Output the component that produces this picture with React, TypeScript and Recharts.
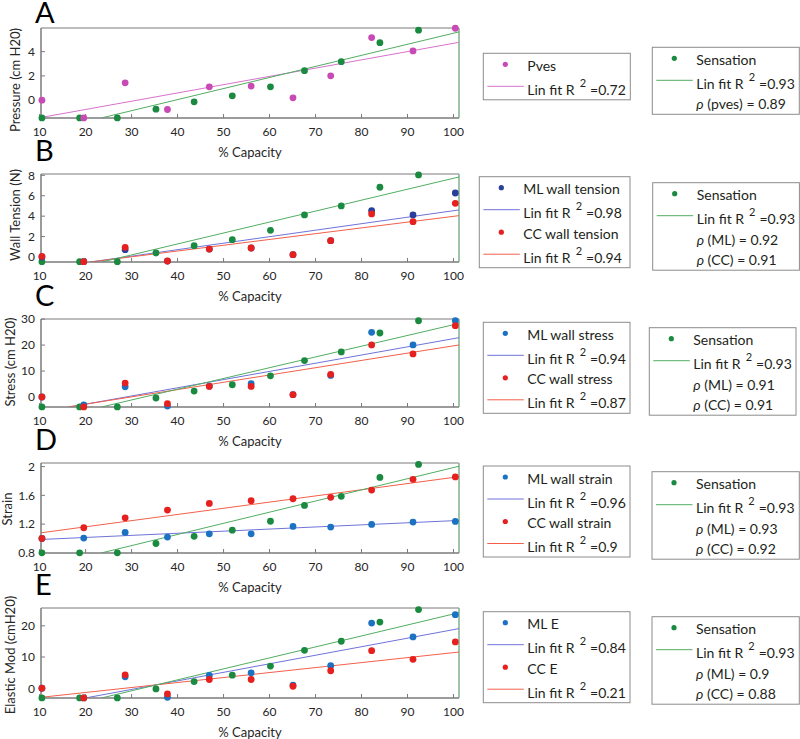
import React from 'react';
import { ScatterChart, Scatter, XAxis, YAxis, ReferenceLine, ReferenceArea } from 'recharts';

// % capacity for the sensation readings and for the wall measurements
const capSensation = [10.5, 18.7, 26.9, 35.3, 43.6, 51.9, 60.2, 67.6, 75.6, 84.0, 92.4];
const capWall = [10.5, 19.6, 28.6, 37.8, 46.9, 56.0, 65.1, 73.3, 82.2, 91.2, 100.4];
const xTicks = [10, 20, 30, 40, 50, 60, 70, 80, 90, 100];
const xDomain = [10.3, 101.2];

// A - pressure
const sensationA = [-1.46, -1.46, -1.46, -0.74, -0.14, 0.36, 1.1, 2.43, 3.17, 4.74, 5.77];
const pves = [0, -1.46, 1.43, -0.77, 1.1, 1.16, 0.19, 2.01, 5.16, 4.06, 5.93];
const fitSensationA = [[23.5, -1.46], [101.2, 5.63]];
const fitPves = [[10.3, -1.43], [101.2, 4.77]];
const yDomainA = [-1.47, 5.95];
const yTicksA = [0, 2, 4];

// B - wall tension
const sensationB = [-0.46, -0.46, -0.46, 0.39, 1.11, 1.7, 2.61, 4.12, 5.0, 6.83, 8.04];
const mlTension = [0.0, -0.46, 0.72, -0.4, 0.78, 0.88, 0.23, 1.6, 4.54, 4.12, 6.27];
const ccTension = [0.07, -0.46, 0.95, -0.39, 0.78, 0.88, 0.23, 1.6, 4.22, 3.46, 5.26];
const fitSensationB = [[23.5, -0.49], [101.2, 7.84]];
const fitMlTension = [[21.0, -0.49], [101.2, 4.61]];
const fitCcTension = [[21.0, -0.49], [101.2, 4.05]];
const yDomainB = [-0.49, 8.13];
const yTicksB = [0, 2, 4, 6, 8];

// C - stress
const sensationC = [-3.83, -3.83, -3.83, -0.38, 2.3, 4.73, 8.17, 14.05, 17.37, 24.65, 29.37];
const mlStress = [0, -3.07, 3.96, -3.5, 4.2, 5.1, 0.9, 8.3, 24.9, 20.05, 29.4];
const ccStress = [0, -3.83, 5.36, -2.55, 4.09, 4.09, 0.9, 8.68, 20.05, 16.6, 27.46];
const fitSensationC = [[23.5, -3.83], [101.2, 28.35]];
const fitMlStress = [[16.6, -3.83], [101.2, 22.86]];
const fitCcStress = [[16.2, -3.83], [101.2, 20.05]];
const yDomainC = [-3.85, 30.05];
const yTicksC = [0, 10, 20, 30];

// D - strain
const sensationD = [0.8, 0.8, 0.8, 0.93, 1.03, 1.116, 1.24, 1.46, 1.586, 1.85, 2.03];
const mlStrain = [1.0, 1.005, 1.084, 1.02, 1.065, 1.065, 1.167, 1.158, 1.195, 1.228, 1.237];
const ccStrain = [1.0, 1.149, 1.288, 1.395, 1.488, 1.526, 1.553, 1.572, 1.674, 1.823, 1.856];
const fitSensationD = [[23.5, 0.8], [101.2, 2.005]];
const fitMlStrain = [[10.3, 0.986], [101.2, 1.251]];
const fitCcStrain = [[10.3, 1.079], [101.2, 1.86]];
const yDomainD = [0.798, 2.05];
const yTicksD = [0.8, 1.2, 1.6, 2];

// E - elastic modulus
const sensationE = [-3.1, -3.1, -3.1, -0.2, 2.15, 4.19, 7.1, 12.15, 15.05, 21.2, 25.2];
const mlModulus = [0, -3.1, 3.66, -2.9, 4.09, 4.95, 0.97, 7.2, 20.86, 16.45, 23.55];
const ccModulus = [0, -3.1, 4.3, -1.83, 2.8, 2.8, 0.65, 5.6, 12.04, 9.25, 14.84];
const fitSensationE = [[23.5, -3.1], [101.2, 24.2]];
const fitMlModulus = [[20.0, -3.1], [101.2, 19.1]];
const fitCcModulus = [[10.3, -2.9], [101.2, 11.6]];
const yDomainE = [-3.12, 25.7];
const yTicksE = [0, 10, 20];

const GREEN = '#198a3f';
const GREEN_LINE = '#52ad62';
const PINK = '#c84bb5';
const PINK_LINE = '#d772cd';
const NAVY = '#283f9c';
const BLUE = '#1c72c2';
const BLUE_LINE = '#6f73d8';
const RED = '#e61f1f';
const RED_LINE = '#f2604a';
const AXIS = '#7a7a7a';
const FONT = 'Lato, "Open Sans", sans-serif';

const zip = (xs: number[], ys: number[]) => xs.map((x, i) => ({ x, y: ys[i] }));

const dot = (color: string) => (props: any) => (
    <circle cx={props.cx} cy={props.cy} r={3.4} fill={color} />
);

const panels = [
    {
        letter: 'A', top: 28, height: 90, yLabel: 'Pressure (cm H20)', yLabelX: 15, yLabelY: 80,
        yDomain: yDomainA, yTicks: yTicksA,
        series: [
            { data: zip(capSensation, sensationA), color: GREEN },
            { data: zip(capWall, pves), color: PINK },
        ],
        fits: [
            { pts: fitPves, color: PINK_LINE },
            { pts: fitSensationA, color: GREEN_LINE },
        ],
        box1: { x: 483.3, y: 53.3, w: 147, rows: [
            { kind: 'dot', color: PINK, text: 'Pves' },
            { kind: 'line', color: PINK_LINE, r2: '0.72' },
        ] },
        box2: { x: 652.3, y: 47.3, w: 147, rows: [
            { kind: 'dot', color: GREEN, text: 'Sensation' },
            { kind: 'line', color: GREEN_LINE, r2: '0.93' },
            { kind: 'rho', label: '(pves)', value: '0.89' },
        ] },
    },
    {
        letter: 'B', top: 174, height: 88, yLabel: 'Wall Tension (N)', yLabelX: 15, yLabelY: 215,
        yDomain: yDomainB, yTicks: yTicksB,
        series: [
            { data: zip(capSensation, sensationB), color: GREEN },
            { data: zip(capWall, mlTension), color: NAVY },
            { data: zip(capWall, ccTension), color: RED },
        ],
        fits: [
            { pts: fitMlTension, color: BLUE_LINE },
            { pts: fitCcTension, color: RED_LINE },
            { pts: fitSensationB, color: GREEN_LINE },
        ],
        box1: { x: 479.3, y: 176.7, w: 150.7, rows: [
            { kind: 'dot', color: NAVY, text: 'ML wall tension' },
            { kind: 'line', color: BLUE_LINE, r2: '0.98' },
            { kind: 'dot', color: RED, text: 'CC wall tension' },
            { kind: 'line', color: RED_LINE, r2: '0.94' },
        ] },
        box2: { x: 652.7, y: 182.7, w: 146.7, rows: [
            { kind: 'dot', color: GREEN, text: 'Sensation' },
            { kind: 'line', color: GREEN_LINE, r2: '0.93' },
            { kind: 'rho', label: '(ML)', value: '0.92' },
            { kind: 'rho', label: '(CC)', value: '0.91' },
        ] },
    },
    {
        letter: 'C', top: 319, height: 88, yLabel: 'Stress (cm H20)', yLabelX: 10, yLabelY: 362,
        yDomain: yDomainC, yTicks: yTicksC,
        series: [
            { data: zip(capSensation, sensationC), color: GREEN },
            { data: zip(capWall, mlStress), color: BLUE },
            { data: zip(capWall, ccStress), color: RED },
        ],
        fits: [
            { pts: fitMlStress, color: BLUE_LINE },
            { pts: fitCcStress, color: RED_LINE },
            { pts: fitSensationC, color: GREEN_LINE },
        ],
        box1: { x: 483.3, y: 322.3, w: 146.7, rows: [
            { kind: 'dot', color: BLUE, text: 'ML wall stress' },
            { kind: 'line', color: BLUE_LINE, r2: '0.94' },
            { kind: 'dot', color: RED, text: 'CC wall stress' },
            { kind: 'line', color: RED_LINE, r2: '0.87' },
        ] },
        box2: { x: 649.3, y: 327.7, w: 146.7, rows: [
            { kind: 'dot', color: GREEN, text: 'Sensation' },
            { kind: 'line', color: GREEN_LINE, r2: '0.93' },
            { kind: 'rho', label: '(ML)', value: '0.91' },
            { kind: 'rho', label: '(CC)', value: '0.91' },
        ] },
    },
    {
        letter: 'D', top: 463, height: 90, yLabel: 'Strain', yLabelX: 7, yLabelY: 509,
        yDomain: yDomainD, yTicks: yTicksD,
        series: [
            { data: zip(capSensation, sensationD), color: GREEN },
            { data: zip(capWall, mlStrain), color: BLUE },
            { data: zip(capWall, ccStrain), color: RED },
        ],
        fits: [
            { pts: fitMlStrain, color: BLUE_LINE },
            { pts: fitCcStrain, color: RED_LINE },
            { pts: fitSensationD, color: GREEN_LINE },
        ],
        box1: { x: 483.3, y: 466, w: 146.7, rows: [
            { kind: 'dot', color: BLUE, text: 'ML wall strain' },
            { kind: 'line', color: BLUE_LINE, r2: '0.96' },
            { kind: 'dot', color: RED, text: 'CC wall strain' },
            { kind: 'line', color: RED_LINE, r2: '0.9' },
        ] },
        box2: { x: 652, y: 471.7, w: 147.3, rows: [
            { kind: 'dot', color: GREEN, text: 'Sensation' },
            { kind: 'line', color: GREEN_LINE, r2: '0.93' },
            { kind: 'rho', label: '(ML)', value: '0.93' },
            { kind: 'rho', label: '(CC)', value: '0.92' },
        ] },
    },
    {
        letter: 'E', top: 608, height: 90, yLabel: 'Elastic Mod (cmH20)', yLabelX: 10, yLabelY: 655,
        yDomain: yDomainE, yTicks: yTicksE,
        series: [
            { data: zip(capSensation, sensationE), color: GREEN },
            { data: zip(capWall, mlModulus), color: BLUE },
            { data: zip(capWall, ccModulus), color: RED },
        ],
        fits: [
            { pts: fitMlModulus, color: BLUE_LINE },
            { pts: fitCcModulus, color: RED_LINE },
            { pts: fitSensationE, color: GREEN_LINE },
        ],
        box1: { x: 483.3, y: 611.7, w: 146.7, rows: [
            { kind: 'dot', color: BLUE, text: 'ML E' },
            { kind: 'line', color: BLUE_LINE, r2: '0.84' },
            { kind: 'dot', color: RED, text: 'CC E' },
            { kind: 'line', color: RED_LINE, r2: '0.21' },
        ] },
        box2: { x: 652, y: 616.7, w: 147.3, rows: [
            { kind: 'dot', color: GREEN, text: 'Sensation' },
            { kind: 'line', color: GREEN_LINE, r2: '0.93' },
            { kind: 'rho', label: '(ML)', value: '0.9' },
            { kind: 'rho', label: '(CC)', value: '0.88' },
        ] },
    },
];

const tickStyle = { fontSize: 12, fill: '#262626', fontFamily: FONT };

function Panel({ p }: { p: any }) {
    return (
        <div style={{ position: 'absolute', left: 0, top: p.top - 10 }}>
            <ScatterChart width={470} height={p.height + 40} margin={{ top: 10, right: 11, bottom: 0, left: 0 }}>
                <XAxis
                    type="number" dataKey="x" domain={xDomain} ticks={xTicks} interval={0}
                    height={30} tickSize={-4} tickMargin={13} tick={tickStyle}
                    stroke={AXIS} axisLine={{ stroke: AXIS }} tickLine={{ stroke: AXIS }}
                />
                <YAxis
                    type="number" dataKey="y" domain={p.yDomain} ticks={p.yTicks} interval={0}
                    width={41} tickSize={-4} tickMargin={10} tick={tickStyle}
                    stroke={AXIS} axisLine={{ stroke: AXIS }} tickLine={{ stroke: AXIS }}
                />
                {/* plot frame, right edge drawn green as in the source figure */}
                <ReferenceArea
                    x1={xDomain[0]} x2={xDomain[1]} y1={p.yDomain[0]} y2={p.yDomain[1]}
                    fill="none" fillOpacity={0} stroke={AXIS} strokeWidth={1} ifOverflow="visible"
                />
                <ReferenceLine x={xDomain[1]} stroke="#8cc99b" strokeWidth={1.2} ifOverflow="visible" />
                {p.fits.map((f: any, i: number) => (
                    <ReferenceLine
                        key={'f' + i}
                        segment={[{ x: f.pts[0][0], y: f.pts[0][1] }, { x: f.pts[1][0], y: f.pts[1][1] }]}
                        stroke={f.color} strokeWidth={1} ifOverflow="hidden"
                    />
                ))}
                {p.series.map((s: any, i: number) => (
                    <Scatter key={'s' + i} data={s.data} shape={dot(s.color)} isAnimationActive={false} />
                ))}
            </ScatterChart>
        </div>
    );
}

function LegendBox({ box }: { box: any }) {
    const centers: number[] = [];
    let c = box.y + 12.5;
    box.rows.forEach((r: any, i: number) => {
        if (i > 0) c += r.kind === 'line' ? 24 : 20.5;
        centers.push(c);
    });
    const h = centers[centers.length - 1] - box.y + 10;
    const tx = box.x + 44;
    return (
        <g fontFamily={FONT} fontSize={14} fill="#231f20">
            <rect x={box.x} y={box.y} width={box.w} height={h} fill="#fff" stroke="#8c8c8c" strokeWidth={1} />
            {box.rows.map((r: any, i: number) => {
                const cy = centers[i];
                if (r.kind === 'dot') {
                    return (
                        <g key={i}>
                            <circle cx={box.x + 22} cy={cy - 1.5} r={2.6} fill={r.color} />
                            <text x={tx} y={cy + 5}>{r.text}</text>
                        </g>
                    );
                }
                if (r.kind === 'line') {
                    return (
                        <g key={i}>
                            <line x1={box.x + 4} x2={box.x + 40.5} y1={cy - 3.5} y2={cy - 3.5} stroke={r.color} strokeWidth={1} />
                            <text x={tx} y={cy + 5}>
                                Lin fit R
                                <tspan dx={5} dy={-8} fontSize={11}>2</tspan>
                                <tspan dx={4} dy={8}>{'=' + r.r2}</tspan>
                            </text>
                        </g>
                    );
                }
                return (
                    <text key={i} x={tx} y={cy + 5}>
                        <tspan fontStyle="italic">ρ</tspan>
                        {' ' + r.label + ' = ' + r.value}
                    </text>
                );
            })}
        </g>
    );
}

export default function App() {
    return (
        <div style={{ position: 'absolute', left: 0, top: 0, width: 800, height: 739, background: '#fff' }}>
            {panels.map((p) => (
                <Panel key={p.letter} p={p} />
            ))}
            <svg width={800} height={739} style={{ position: 'absolute', left: 0, top: 0, pointerEvents: 'none' }}>
                {panels.map((p) => (
                    <g key={p.letter}>
                        <text x={35} y={p.letter === 'A' ? 23 : p.top - 13} fontFamily={FONT} fontSize={29} fill="#000">
                            {p.letter}
                        </text>
                        <text x={250} y={p.top + p.height + 38.5} textAnchor="middle" fontFamily={FONT} fontSize={13} fill="#262626">
                            % Capacity
                        </text>
                        <text
                            x={p.yLabelX} y={p.yLabelY} transform={`rotate(-90 ${p.yLabelX} ${p.yLabelY})`}
                            textAnchor="middle" dominantBaseline="central" fontFamily={FONT} fontSize={13} fill="#262626"
                        >
                            {p.yLabel}
                        </text>
                        <LegendBox box={p.box1} />
                        <LegendBox box={p.box2} />
                    </g>
                ))}
            </svg>
        </div>
    );
}
